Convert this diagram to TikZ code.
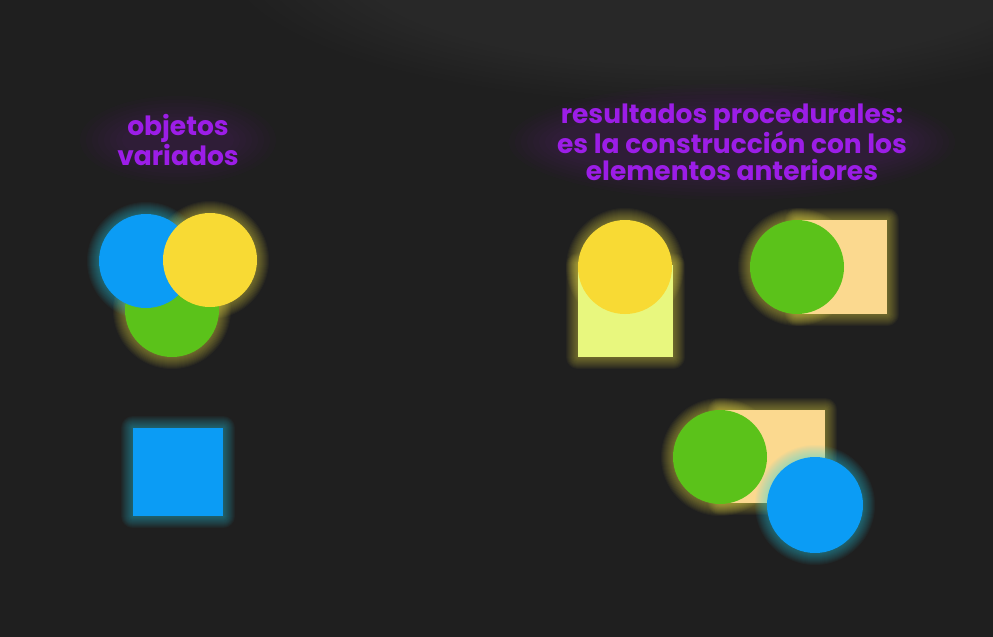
\documentclass[tikz,border=0pt]{standalone}
\usepackage{fontspec}
\setmainfont{Poppins}
\definecolor{bg}{HTML}{1F1F1F}
\definecolor{bgl}{HTML}{444444}
\definecolor{cblue}{HTML}{0B9CF5}
\definecolor{cyanglow}{HTML}{2FD6F0}
\definecolor{cyellow}{HTML}{F8DA34}
\definecolor{yglow}{HTML}{F4E64A}
\definecolor{cgreen}{HTML}{5BC21A}
\definecolor{clime}{HTML}{E8F77E}
\definecolor{cpeach}{HTML}{FBD98F}
\definecolor{cpurple}{HTML}{9C1DE7}
\newcommand\glowC[4]{% color, x, y, r
  \foreach \k in {1,...,12}{\fill[#1, opacity=0.04] (#2,#3) circle ({#4pt+\k*1pt});}}
\newcommand\glowR[5]{% color, x1,y1,x2,y2
  \foreach \k in {1,...,12}{\fill[#1, opacity=0.04, rounded corners={\k*1pt}] ({#2-\k*1},{#3-\k*1}) rectangle ({#4+\k*1},{#5+\k*1});}}
\tikzset{
  disc/.style={circle, minimum size=94pt, inner sep=0pt, draw=none, fill=#1},
  box/.style={rectangle, inner sep=0pt, draw=none, fill=#1, anchor=north west},
  label/.style={text=cpurple, font=\fontsize{26.5}{27}\selectfont\bfseries, align=center, inner sep=0pt}
}
\begin{document}
\begin{tikzpicture}[x=1pt, y=-1pt]
\useasboundingbox (0,0) rectangle (993,637);
\fill[bg] (0,0) rectangle (993,637);
% lighter haze near top
\foreach \k in {1,...,30}{\fill[bgl, opacity=0.035] (700,-40) ellipse ({20pt+\k*15pt} and {8pt+\k*4.5pt});}

% text halos
\foreach \k in {1,...,8}{\fill[cpurple, opacity=0.018] (178,140) ellipse ({50pt+\k*6pt} and {16pt+\k*3.5pt});}
\foreach \k in {1,...,8}{\fill[cpurple, opacity=0.018] (732,142) ellipse ({175pt+\k*6pt} and {30pt+\k*3.5pt});}

\node[label] (t1) at (178,140) {objetos\\variados};
\node[label] (t2) at (732,142) {resultados procedurales:\\es la construcción con los\\elementos anteriores};

% ---- left cluster ----
\glowC{yglow}{172}{310}{47}
\glowC{cyanglow}{146}{261}{47}
\glowC{yglow}{210}{260}{47}
\node[disc=cgreen] (g1) at (172,310) {};
\node[disc=cblue] (b1) at (146,261) {};
\node[disc=cyellow] (y1) at (210,260) {};

\glowR{cyanglow}{133}{428}{223}{516}
\node[box=cblue, minimum width=90pt, minimum height=88pt] (sq) at (133,428) {};

% ---- right: yellow circle on lime box ----
\glowR{yglow}{578}{265}{673}{357}
\glowC{yglow}{625}{267}{47}
\node[box=clime, minimum width=95pt, minimum height=92pt] (r1) at (578,265) {};
\node[disc=cyellow] (y2) at (625,267) {};

% ---- right: green circle on peach box ----
\glowR{yglow}{797}{220}{887}{314}
\glowC{yglow}{797}{267}{47}
\node[box=cpeach, minimum width=90pt, minimum height=94pt] (r2) at (797,220) {};
\node[disc=cgreen] (g2) at (797,267) {};

% ---- bottom: green + peach + blue ----
\glowR{yglow}{720}{410}{825}{503}
\glowC{yglow}{720}{457}{47}
\node[box=cpeach, minimum width=105pt, minimum height=93pt] (r3) at (720,410) {};
\node[disc=cgreen] (g3) at (720,457) {};
\glowC{cyanglow}{815}{505}{48}
\node[disc=cblue, minimum size=96pt] (b3) at (815,505) {};
\end{tikzpicture}
\end{document}
